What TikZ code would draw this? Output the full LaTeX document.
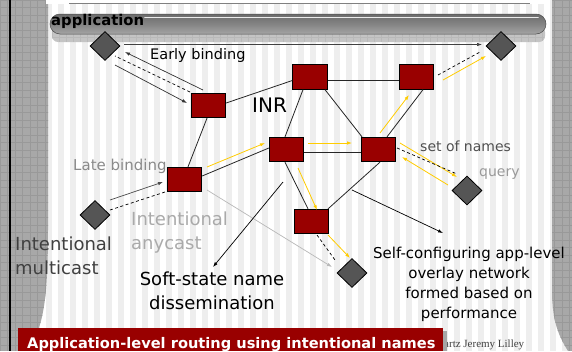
\documentclass[tikz,border=0pt]{standalone}
\usepackage{fontspec}
\setmainfont{DejaVu Sans}
\newfontfamily\footfont{Liberation Serif}
\usetikzlibrary{shapes.geometric,arrows.meta}
\definecolor{boxred}{HTML}{990000}
\definecolor{dgray}{HTML}{555555}
\definecolor{yel}{HTML}{FFCC00}
\definecolor{panel}{HTML}{A8A8A8}
\definecolor{panelgrid}{HTML}{999999}
\definecolor{stripe}{HTML}{EEEEEE}
\definecolor{latecol}{HTML}{8A8A8A}
\definecolor{namescol}{HTML}{505050}
\definecolor{querycol}{HTML}{9A9A9A}
\definecolor{anycol}{HTML}{AAAAAA}
\definecolor{multicol}{HTML}{404040}
\definecolor{barhi}{HTML}{6C6C6C}
\definecolor{barmid}{HTML}{848484}
\definecolor{barlo}{HTML}{A4A4A4}
\definecolor{bandcol}{HTML}{C4C4C4}
\begin{document}
\begin{tikzpicture}[x=1pt,y=-1pt,
  rbox/.style={rectangle,minimum width=34.5pt,minimum height=24.5pt,inner sep=0pt,fill=boxred,draw=black,line width=0.8pt},
  dmd/.style={diamond,minimum width=30pt,minimum height=29pt,inner sep=0pt,fill=dgray,draw=black,line width=0.8pt},
  netedge/.style={draw=black!85,line width=0.8pt},
  yarr/.style={draw=yel,line width=0.8pt,-{Latex[length=5pt,width=3.5pt]}},
  dline/.style={draw=black,line width=0.7pt,dash pattern=on 3pt off 2.5pt},
  sarr/.style={line width=0.7pt,-{Latex[length=5pt,width=3.5pt]}},
  lbl/.style={inner sep=0pt}]

\useasboundingbox (0,0) rectangle (572,351);
% background stripes
\fill[stripe] (0,0) rectangle (572,351);
\foreach \i in {0,...,47} {\fill[white] (\i*12+4,0) rectangle (\i*12+10,351);}

% left panel
\begin{scope}
\clip (0,0) -- (48,0) -- (48,230) .. controls (48,290) and (44,318) .. (36,335) -- (36,351) -- (0,351) -- cycle;
\fill[panel] (0,0) rectangle (60,351);
\foreach \k in {0,...,47} {\draw[panelgrid,line width=0.4pt] (0,\k*7.5) -- (60,\k*7.5);}
\foreach \k in {0,...,8} {\draw[panelgrid,line width=0.4pt] (\k*7.5,0) -- (\k*7.5,351);}
\end{scope}
\draw[black,line width=2pt] (9.5,0) -- (9.5,351);

% right panel
\begin{scope}
\clip (552,0) -- (572,0) -- (572,351) -- (568,351) .. controls (558,335) and (552,320) .. (552,290) -- cycle;
\fill[panel] (545,0) rectangle (572,351);
\foreach \k in {0,...,47} {\draw[panelgrid,line width=0.4pt] (545,\k*7.5) -- (572,\k*7.5);}
\foreach \k in {0,...,4} {\draw[panelgrid,line width=0.4pt] (547+\k*7.5,0) -- (547+\k*7.5,351);}
\end{scope}

% top strip
\fill[white] (46,0) rectangle (550,4);
\draw[gray,line width=0.5pt] (69,3) -- (530,3);

% band under the application bar
\fill[bandcol,rounded corners=6pt] (52,26) rectangle (545,42);
\begin{scope}
\clip[rounded corners=6pt] (52,26) rectangle (545,42);
\foreach \k in {0,...,70} {\draw[gray!55,line width=0.3pt] (52+\k*7,26) -- (52+\k*7,42);}
\draw[gray!55,line width=0.3pt] (52,37.5) -- (545,37.5);
\end{scope}
% application bar
\shade[top color=barhi,bottom color=barlo,middle color=barmid,rounded corners=10pt] (50,14) rectangle (546,34);
\draw[gray!60!black,line width=0.5pt,rounded corners=10pt] (50,14) rectangle (546,34);
\draw[white!85!gray,line width=1.6pt,line cap=round] (145,17.5) -- (538,17.5);
\node[lbl,anchor=base west,font=\fontsize{14.8}{18}\selectfont\bfseries] (tapp) at (51,25.5) {application};

% diamonds
\node[dmd] (D1) at (105,46) {};
\node[dmd] (D2) at (501,46) {};
\node[dmd] (D3) at (467,190.5) {};
\node[dmd] (D4) at (95,215) {};
\node[dmd] (D5) at (352,273) {};

% routers
\node[rbox] (R1) at (208.5,105.5) {};
\node[rbox] (R2) at (310,77) {};
\node[rbox] (R3) at (416.5,77) {};
\node[rbox] (R4) at (286.5,149.5) {};
\node[rbox] (R5) at (378.5,149.5) {};
\node[rbox] (R6) at (184.5,179.5) {};
\node[rbox] (R7) at (311.5,221.5) {};

% overlay edges
\draw[netedge] ([yshift=2.5pt]R1.east) -- ([yshift=-3.5pt]R2.west);
\draw[netedge] ([xshift=-1.5pt]R1.south) -- ([xshift=3.5pt]R6.north);
\draw[netedge] ([yshift=-3pt]R2.east) -- ([yshift=-3pt]R3.west);
\draw[netedge] ([xshift=-7pt]R2.south) -- ([xshift=-1.5pt]R4.north);
\draw[netedge] ([xshift=15pt]R2.south) -- ([xshift=-16.5pt]R5.north);
\draw[netedge] ([xshift=6.5pt]R3.south) -- ([xshift=8.5pt]R5.north);
\draw[netedge] ([yshift=-2.5pt]R4.east) -- ([yshift=-2.5pt]R5.west);
\draw[netedge] ([yshift=3.5pt]R6.east) -- ([yshift=1.5pt]R4.west);
\draw[netedge] ([xshift=-1.5pt]R4.south) -- ([xshift=-3.5pt]R7.north);
\draw[netedge] ([xshift=1.5pt]R5.south) -- ([xshift=16.5pt]R7.north);

% free ends
\coordinate (y1a) at (207,167);   \coordinate (y1b) at (265,143);
\coordinate (y2a) at (308,143);   \coordinate (y2b) at (352,143);
\coordinate (y3a) at (380,133);   \coordinate (y3b) at (409,95);
\coordinate (y4a) at (443,80);    \coordinate (y4b) at (486,56);
\coordinate (y5a) at (400,143);   \coordinate (y5b) at (457,177);
\coordinate (y6a) at (448,185);   \coordinate (y6b) at (402,157);
\coordinate (y7a) at (298,168);   \coordinate (y7b) at (317,210);
\coordinate (y8a) at (328,235);   \coordinate (y8b) at (350,258);
\coordinate (d1a) at (190,92);    \coordinate (d1b) at (115,56);
\coordinate (d2a) at (438,75);    \coordinate (d2b) at (480,52);
\coordinate (d3a) at (397,148);   \coordinate (d3b) at (457,174);
\coordinate (d4a) at (165,192);   \coordinate (d4b) at (110,210);
\coordinate (d5a) at (317,235);   \coordinate (d5b) at (335,260);
\coordinate (a1a) at (115,65);    \coordinate (a1b) at (187,103);
\coordinate (a2a) at (203,90);    \coordinate (a2b) at (125,52);
\coordinate (a3a) at (124,44.5);  \coordinate (a3b) at (482,44.5);
\coordinate (a4a) at (110,200);   \coordinate (a4b) at (163,182);
\coordinate (a5a) at (207,190);   \coordinate (a5b) at (332,267);
\coordinate (a6a) at (283,182);   \coordinate (a6b) at (213,267);
\coordinate (a7a) at (352,190);   \coordinate (a7b) at (443,233);

% yellow flows
\foreach \p in {y1,y2,y3,y4,y5,y6,y7,y8} {\draw[yarr] (\p a) -- (\p b);}
% dashed replies
\foreach \p in {d1,d2,d3,d4,d5} {\draw[dline] (\p a) -- (\p b);}
% solid arrows
\draw[sarr,draw=black!80] (a1a) -- (a1b);
\draw[sarr,draw=black!80] (a2a) -- (a2b);
\draw[sarr,draw=black!75] (a3a) -- (a3b);
\draw[sarr,draw=black!70] (a4a) -- (a4b);
\draw[sarr,draw=black!28] (a5a) -- (a5b);
\draw[sarr,draw=black] (a6a) -- (a6b);
\draw[sarr,draw=black] (a7a) -- (a7b);

% labels
\node[lbl,anchor=base west,font=\fontsize{14.5}{17}\selectfont] (teb) at (150,59.5) {Early binding};
\node[lbl,anchor=base west,font=\fontsize{20}{24}\selectfont] (tinr) at (252,112) {INR};
\node[lbl,anchor=base west,font=\fontsize{15}{18}\selectfont,text=latecol] (tlb) at (73,170.5) {Late binding};
\node[lbl,anchor=base west,font=\fontsize{14}{17}\selectfont,text=namescol] (tson) at (420,151.7) {set of names};
\node[lbl,anchor=base west,font=\fontsize{14}{17}\selectfont,text=querycol] (tq) at (479,176.7) {query};
\node[lbl,anchor=north west,align=left,font=\fontsize{18}{23.5}\selectfont,text=anycol] (tia) at (131,212) {Intentional\\anycast};
\node[lbl,anchor=north west,align=left,font=\fontsize{18}{23.5}\selectfont,text=multicol] (tim) at (15,237) {Intentional\\multicast};
\node[lbl,anchor=north,align=center,font=\fontsize{18}{24}\selectfont] (tss) at (212,272) {Soft-state name\\dissemination};
\node[lbl,anchor=north,align=center,font=\fontsize{15}{20}\selectfont] (tsc) at (469,246.5) {Self-configuring app-level\\overlay network\\formed based on\\performance};

% footer and banner
\node[lbl,anchor=base west,font=\footfont\fontsize{11}{13}\selectfont,text=black!75] (tfoot) at (444,347.5) {artz Jeremy Lilley};
\fill[gray!70] (443,331) rectangle (447,351);
\fill[boxred] (18,328) rectangle (443,351);
\node[lbl,anchor=base west,text=white,font=\fontsize{14.6}{17}\selectfont\bfseries] (tban) at (27,348.6) {Application-level routing using intentional names};
\end{tikzpicture}
\end{document}
